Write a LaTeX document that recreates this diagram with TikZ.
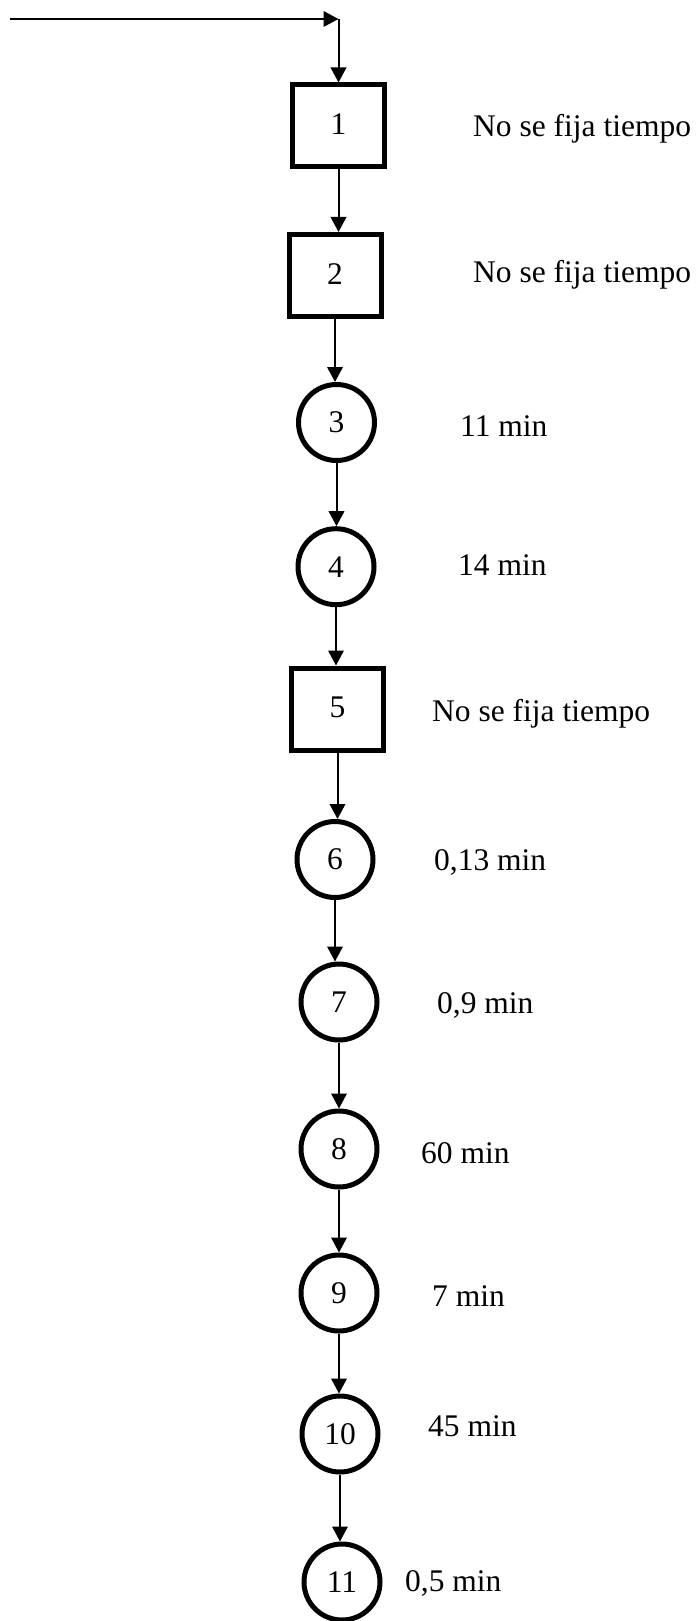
\documentclass[tikz,border=0pt]{standalone}
\usepackage{fontspec}
\setmainfont{Liberation Serif}
\usetikzlibrary{arrows.meta}
\begin{document}
\begin{tikzpicture}[x=1pt,y=-1pt,
  every node/.style={font=\fontsize{31.5}{36}\selectfont},
  op/.style={circle,draw,line width=5pt,minimum size=76pt,inner sep=0pt},
  stepbox/.style={rectangle,draw,line width=5pt,minimum width=92pt,minimum height=82pt,inner sep=0pt},
  arr/.style={line width=2pt,-{Triangle[length=15pt,width=15.5pt]}},
  lbl/.style={anchor=base west,inner sep=0pt}]
\useasboundingbox (0,0) rectangle (700,1621);

% process steps
\node[stepbox] (n1) at (338.5,126) {\raisebox{4pt}{1}};
\node[stepbox] (n2) at (335,275.5) {\raisebox{3pt}{2}};
\node[op] (n3) at (336.5,422.5) {3};
\node[op] (n4) at (336,566.7) {4};
\node[stepbox] (n5) at (337.5,709) {\raisebox{4pt}{5}};
\node[op] (n6) at (335,859.5) {6};
\node[op] (n7) at (339,1002) {7};
\node[op] (n8) at (339,1149) {8};
\node[op] (n9) at (339,1293) {9};
\node[op] (n10) at (340,1434) {\raisebox{-4pt}{10}};
\node[op] (n11) at (342,1582) {11};

% times
\node[lbl] (t1) at (473,136.7) {No se fija tiempo};
\node[lbl] (t2) at (473,282.7) {No se fija tiempo};
\node[lbl] (t3) at (460,436.7) {11 min};
\node[lbl] (t4) at (458,575) {14 min};
\node[lbl] (t5) at (432,721.7) {No se fija tiempo};
\node[lbl] (t6) at (434,870) {0,13 min};
\node[lbl] (t7) at (437,1013) {0,9 min};
\node[lbl] (t8) at (421,1163) {60 min};
\node[lbl] (t9) at (432,1306.7) {7 min};
\node[lbl] (t10) at (428,1436.7) {45 min};
\node[lbl] (t11) at (405,1591.7) {0,5 min};

% incoming flow
\coordinate (start) at (10,19);
\coordinate (corner) at (n1.north |- start);
\draw[arr] (start) -- (corner);
\draw[arr] (corner) -- (n1.north);

% flow between steps
\foreach \a/\b in {n1/n2,n2/n3,n3/n4,n4/n5,n5/n6,n6/n7,n7/n8,n8/n9,n9/n10,n10/n11}
  \draw[arr] (\a.south) -- (\a.south |- \b.north);
\end{tikzpicture}
\end{document}
